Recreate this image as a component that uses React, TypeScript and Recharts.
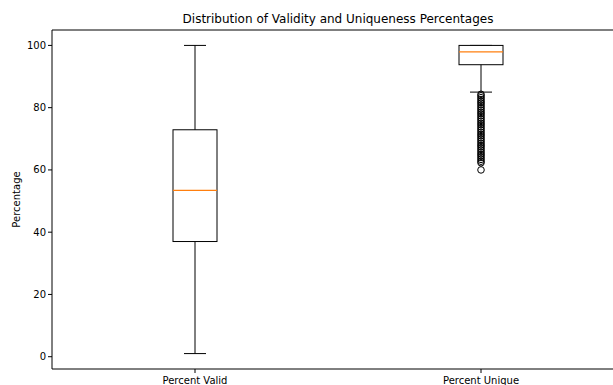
import React from "react";
import { Bar, ComposedChart, ReferenceLine, Scatter, XAxis, YAxis } from "recharts";

const categories = ["Percent Valid", "Percent Unique"];
const whiskerLow = [1, 85];
const q1 = [37, 93.8];
const median = [53.4, 97.9];
const q3 = [72.9, 100];
const whiskerHigh = [100, 100];
const uniqueOutliers = [
  60, 62.3, 62.8, 63.4, 64, 64.6, 65.1, 65.7, 66.3, 66.9, 67.5, 68, 68.6, 69.2, 69.8, 70.4, 71, 71.5,
  72.1, 72.7, 73.3, 73.9, 74.5, 75, 75.6, 76.2, 76.8, 77.4, 78, 78.5, 79.1, 79.7, 80.3, 80.9, 81.5,
  82, 82.6, 83.2, 83.8, 84.3,
];

const rows = categories.map((name, i) => ({
  name,
  lo: whiskerLow[i],
  q1: q1[i],
  med: median[i],
  q3: q3[i],
  hi: whiskerHigh[i],
}));
const outlierPoints = uniqueOutliers.map((v) => ({ pos: 2, value: v }));

const INK = "#000";
const FONT = "DejaVu Sans";

const Whisker = (p: any) => {
  const cx = p.x + p.width / 2;
  const top = Math.min(p.y, p.y + p.height);
  const bot = Math.max(p.y, p.y + p.height);
  const cap = p.width / 4;
  return (
    <g stroke={INK} strokeWidth={1}>
      <line x1={cx} x2={cx} y1={top} y2={bot} />
      <line x1={cx - cap} x2={cx + cap} y1={top} y2={top} />
      <line x1={cx - cap} x2={cx + cap} y1={bot} y2={bot} />
    </g>
  );
};

const Box = (p: any) => {
  const top = Math.min(p.y, p.y + p.height);
  const h = Math.abs(p.height);
  return <rect x={p.x} y={top} width={p.width} height={h} fill="#fff" stroke={INK} strokeWidth={1} />;
};

const Median = (p: any) => {
  const top = Math.min(p.y, p.y + p.height);
  return <line x1={p.x} x2={p.x + p.width} y1={top} y2={top} stroke="#ff7f0e" strokeWidth={1.2} />;
};

const Flier = (p: any) => <circle cx={p.cx} cy={p.cy} r={3.3} fill="none" stroke={INK} strokeWidth={1} />;

export default function App() {
  return (
    <div style={{ position: "absolute", left: 0, top: 0, width: 613, height: 385, overflow: "hidden", background: "#fff" }}>
      <div
        style={{
          position: "absolute",
          left: 52,
          width: 572,
          top: 12,
          textAlign: "center",
          fontFamily: FONT,
          fontSize: 12,
          color: "#000",
        }}
      >
        Distribution of Validity and Uniqueness Percentages
      </div>
      <ComposedChart width={640} height={385} data={rows} margin={{ top: 30, right: 16, left: 0, bottom: 0 }}>
        <XAxis
          dataKey="name"
          height={16}
          stroke={INK}
          tickSize={4}
          tickMargin={4}
          tick={{ fill: INK, fontSize: 10, fontFamily: FONT }}
        />
        <XAxis xAxisId="b" dataKey="name" hide />
        <XAxis xAxisId="c" dataKey="name" hide />
        <XAxis xAxisId="num" type="number" dataKey="pos" domain={[0.5, 2.5]} hide allowDataOverflow />
        <YAxis
          type="number"
          domain={[-3.95, 104.95]}
          ticks={[0, 20, 40, 60, 80, 100]}
          allowDataOverflow
          width={52}
          stroke={INK}
          tickSize={4}
          tick={{ fill: INK, fontSize: 10, fontFamily: FONT }}
          label={{ value: "Percentage", angle: -90, position: "insideLeft", offset: 16, style: { textAnchor: "middle", fontSize: 10, fontFamily: FONT, fill: INK } }}
        />
        <ReferenceLine y={104.95} stroke={INK} />
        <Bar dataKey={(d: any) => [d.lo, d.hi]} barSize={44} shape={Whisker} isAnimationActive={false} />
        <Bar xAxisId="b" dataKey={(d: any) => [d.q1, d.q3]} barSize={44} shape={Box} isAnimationActive={false} />
        <Bar xAxisId="c" dataKey={(d: any) => [d.q1, d.med]} barSize={44} shape={Median} isAnimationActive={false} />
        <Scatter xAxisId="num" data={outlierPoints} dataKey="value" shape={Flier} isAnimationActive={false} />
      </ComposedChart>
    </div>
  );
}
